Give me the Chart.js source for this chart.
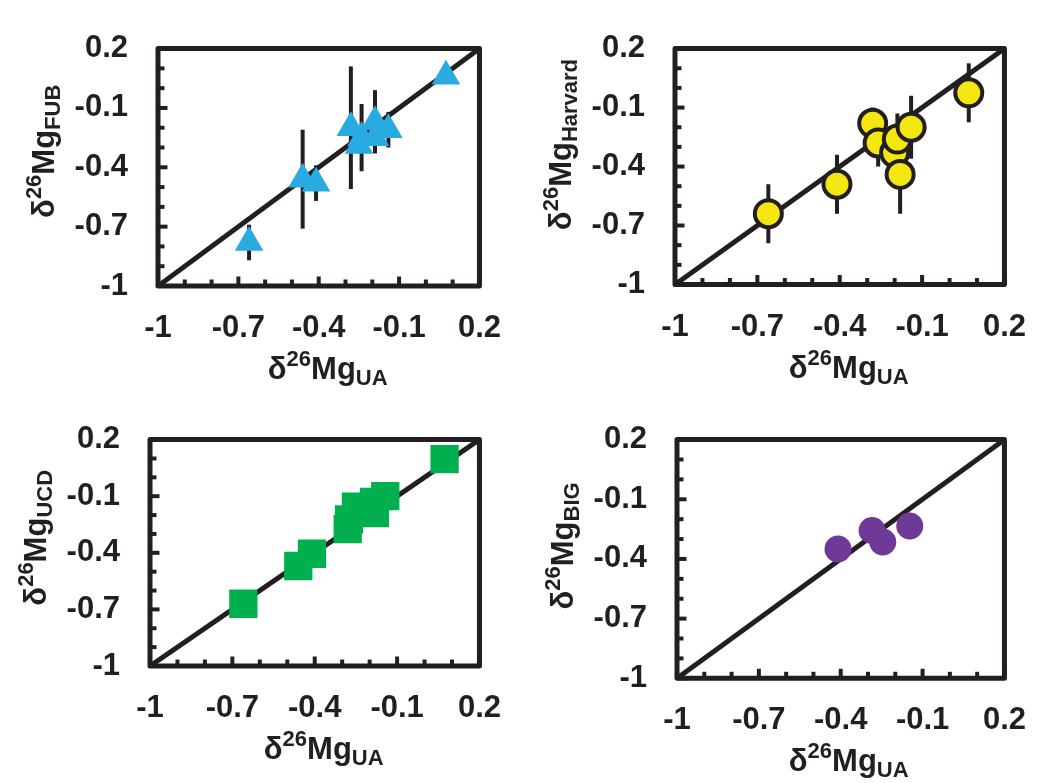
<!DOCTYPE html>
<html>
<head>
<meta charset="utf-8">
<script src="https://cdn.jsdelivr.net/npm/chart.js@4/dist/chart.umd.min.js"></script>
<style>
  html, body { margin: 0; padding: 0; background: #fff; }
  #wrap { position: relative; width: 1051px; height: 783px; }
  canvas { position: absolute; }
</style>
</head>
<body>
<div id="wrap">
  <canvas id="fub" width="525" height="391" style="left:0;top:0"></canvas>
  <canvas id="harvard" width="525" height="391" style="left:525px;top:0"></canvas>
  <canvas id="ucd" width="525" height="391" style="left:0;top:391px"></canvas>
  <canvas id="big" width="525" height="391" style="left:525px;top:391px"></canvas>
</div>
<script>
// axis ticks (same on every panel)
const ALL_TICKS = [-1, -0.9, -0.8, -0.7, -0.6, -0.5, -0.4, -0.3, -0.2, -0.1, 0, 0.1, 0.2];
const MAJOR_TICKS = [-1, -0.7, -0.4, -0.1, 0.2];
const TICK_LABELS = ['-1', '-0.7', '-0.4', '-0.1', '0.2'];
const ONE_TO_ONE = [{ x: -1, y: -1 }, { x: 0.2, y: 0.2 }];

// FUB vs UA
const FUB_X = [-0.66, -0.46, -0.41, -0.28, -0.24, -0.25, -0.19, -0.19, -0.14, 0.075];
const FUB_Y = [-0.78, -0.46, -0.48, -0.20, -0.25, -0.29, -0.17, -0.25, -0.21, 0.06];
const FUB_ERR = [0.09, 0.25, 0.09, 0.31, 0.17, 0.04, 0.16, 0.04, 0.09, 0.03];

// Harvard vs UA
const HARV_X = [-0.66, -0.41, -0.28, -0.26, -0.20, -0.19, -0.18, -0.14, 0.07];
const HARV_Y = [-0.64, -0.49, -0.18, -0.28, -0.33, -0.26, -0.44, -0.20, -0.025];
const HARV_ERR = [0.15, 0.15, 0.08, 0.12, 0.10, 0.13, 0.20, 0.16, 0.15];

// UCD vs UA
const UCD_X = [-0.66, -0.46, -0.41, -0.28, -0.275, -0.25, -0.184, -0.181, -0.143, 0.073];
const UCD_Y = [-0.67, -0.47, -0.405, -0.275, -0.223, -0.155, -0.13, -0.19, -0.10, 0.097];

// BIG vs UA
const BIG_X = [-0.41, -0.285, -0.246, -0.147];
const BIG_Y = [-0.35, -0.257, -0.315, -0.234];

const INK = '#231f20';
const FONT = '"Liberation Sans", Arial, Helvetica, sans-serif';
const Y_AXIS_W = 110;
const X_AXIS_H = 70;

const toPoints = (xs, ys) => xs.map((x, i) => ({ x, y: ys[i] }));
const axisTitle = (sub) => [['δ', 'n'], ['26', 'sup'], ['Mg', 'n'], [sub, 'sub']];

function tickLabel(value) {
  const i = MAJOR_TICKS.findIndex((m) => Math.abs(m - value) < 1e-9);
  return i >= 0 ? TICK_LABELS[i] : '';
}

function axis(dir) {
  return {
    type: 'linear',
    min: -1,
    max: 0.2,
    afterBuildTicks: (s) => { s.ticks = ALL_TICKS.map((v) => ({ value: v })); },
    afterFit: (s) => { if (dir === 'x') s.height = X_AXIS_H; else s.width = Y_AXIS_W; },
    grid: { display: false, drawTicks: false },
    border: { display: false },
    ticks: {
      color: INK,
      font: { family: FONT, size: 31, weight: 'bold' },
      padding: dir === 'x' ? 24 : 30,
      autoSkip: false,
      maxRotation: 0,
      callback: tickLabel
    }
  };
}

function drawRich(ctx, segs, cx, baseline) {
  const big = `bold 31px ${FONT}`;
  const small = `bold 22px ${FONT}`;
  let total = 0;
  segs.forEach(([t, k]) => { ctx.font = k === 'n' ? big : small; total += ctx.measureText(t).width; });
  let x = cx - total / 2;
  segs.forEach(([t, k]) => {
    ctx.font = k === 'n' ? big : small;
    const dy = k === 'sup' ? -13 : k === 'sub' ? 6 : 0;
    ctx.fillText(t, x, baseline + dy);
    x += ctx.measureText(t).width;
  });
}

const framePlugin = {
  id: 'framePlugin',
  beforeDatasetsDraw(chart) {
    const { ctx, scales: { x, y } } = chart;
    const ds = chart.data.datasets[0];
    if (!ds.errorBars) return;
    ctx.save();
    ctx.strokeStyle = INK;
    ctx.lineWidth = 4;
    ds.data.forEach((p, i) => {
      const e = ds.errorBars[i];
      const px = x.getPixelForValue(p.x);
      ctx.beginPath();
      ctx.moveTo(px, y.getPixelForValue(p.y + e));
      ctx.lineTo(px, y.getPixelForValue(p.y - e));
      ctx.stroke();
    });
    ctx.restore();
  },
  afterDatasetsDraw(chart, args, opts) {
    const { ctx, chartArea: a, scales: { x, y } } = chart;
    ctx.save();
    ctx.strokeStyle = INK;
    ctx.lineJoin = 'round';
    ctx.lineWidth = 5;
    ctx.strokeRect(a.left, a.top, a.right - a.left, a.bottom - a.top);

    // inward ticks on left and bottom axes
    ctx.lineWidth = 4;
    ALL_TICKS.forEach((v) => {
      const len = MAJOR_TICKS.includes(v) ? 9.5 : 6.5;
      const py = y.getPixelForValue(v);
      ctx.beginPath(); ctx.moveTo(a.left, py); ctx.lineTo(a.left + len, py); ctx.stroke();
      const px = x.getPixelForValue(v);
      ctx.beginPath(); ctx.moveTo(px, a.bottom); ctx.lineTo(px, a.bottom - len); ctx.stroke();
    });

    // axis titles
    ctx.fillStyle = INK;
    ctx.textBaseline = 'alphabetic';
    ctx.textAlign = 'left';
    drawRich(ctx, opts.xTitle, (a.left + a.right) / 2 + opts.xDx, a.bottom + 93);
    ctx.translate(a.left - 104, (a.top + a.bottom) / 2 + opts.yDy);
    ctx.rotate(-Math.PI / 2);
    drawRich(ctx, opts.yTitle, 0, 0);
    ctx.restore();
  }
};

// plot rectangle in canvas coords: left, top, right, bottom
function makePanel(id, rect, marker, errorBars, ySub, xDx, yDy) {
  const [l, t, r, b] = rect;
  new Chart(document.getElementById(id), {
    type: 'scatter',
    data: {
      datasets: [
        Object.assign({ errorBars, order: 1 }, marker),
        {
          type: 'line',
          data: ONE_TO_ONE,
          borderColor: INK,
          borderWidth: 5,
          pointRadius: 0,
          order: 2
        }
      ]
    },
    options: {
      responsive: false,
      animation: false,
      events: [],
      layout: {
        padding: { left: l - Y_AXIS_W, top: t, right: 525 - r, bottom: 391 - b - X_AXIS_H }
      },
      scales: { x: axis('x'), y: axis('y') },
      plugins: {
        legend: { display: false },
        tooltip: { enabled: false },
        framePlugin: { xTitle: axisTitle('UA'), yTitle: axisTitle(ySub), xDx, yDy }
      }
    },
    plugins: [framePlugin]
  });
}

makePanel('fub', [158, 25, 495, 286], {
  data: toPoints(FUB_X, FUB_Y),
  pointStyle: 'triangle', pointRadius: 16.5,
  backgroundColor: '#29abe2', borderWidth: 0
}, FUB_ERR, 'FUB', 9, -16);

makePanel('harvard', [150, 23, 488, 284.5], {
  data: toPoints(HARV_X, HARV_Y),
  pointStyle: 'circle', pointRadius: 13.5,
  backgroundColor: '#f4e70f', borderColor: INK, borderWidth: 4
}, HARV_ERR, 'Harvard', 9, -22);

makePanel('ucd', [150, 14, 488, 275], {
  data: toPoints(UCD_X, UCD_Y),
  pointStyle: 'rect', pointRadius: 20,
  backgroundColor: '#00b04f', borderWidth: 0
}, null, 'UCD', 9, -15);

makePanel('big', [152, 27.3, 490, 287.3], {
  data: toPoints(BIG_X, BIG_Y),
  pointStyle: 'circle', pointRadius: 13.5,
  backgroundColor: '#6f3a97', borderWidth: 0
}, null, 'BIG', 8, -13);
</script>
</body>
</html>
